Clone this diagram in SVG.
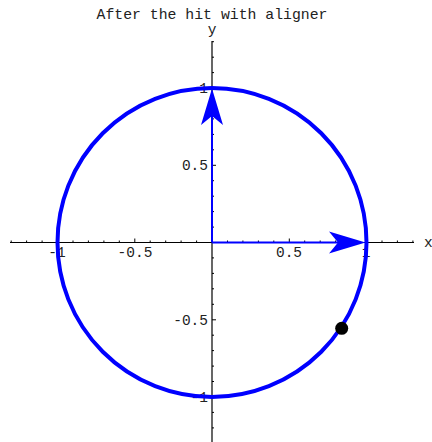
<svg xmlns="http://www.w3.org/2000/svg" width="432" height="442" viewBox="0 0 432 442">
<style>
text{font-family:"Liberation Mono","DejaVu Sans Mono",monospace;fill:#222}
.t{font-size:14.8px}
.l{font-size:14.5px}
.ax{stroke:#000;stroke-width:1.2;fill:none}
.tk{stroke:#000;stroke-width:1}
.blue{stroke:#0000ff;fill:none}
</style>
<rect width="432" height="442" fill="#fff"/>
<text class="t" x="212" y="19" text-anchor="middle">After the hit with aligner</text>
<g id="axes">
<line class="ax" x1="10" y1="242.5" x2="414" y2="242.5"/>
<line class="ax" x1="212" y1="41" x2="212" y2="442"/>
<path class="tk" d="M11.2 242.5v-2M26.6 242.5v-2M42.1 242.5v-2M57.5 242.5v-4M73 242.5v-2M88.4 242.5v-2M103.9 242.5v-2M119.3 242.5v-2M134.8 242.5v-4M150.2 242.5v-2M165.7 242.5v-2M181.1 242.5v-2M196.6 242.5v-2M227.5 242.5v-2M242.9 242.5v-2M258.4 242.5v-2M273.8 242.5v-2M289.3 242.5v-4M304.7 242.5v-2M320.2 242.5v-2M335.6 242.5v-2M351.1 242.5v-2M366.5 242.5v-4M382 242.5v-2M397.4 242.5v-2M412.9 242.5v-2"/>
<path class="tk" d="M212 41.7h2M212 57.2h2M212 72.6h2M212 88h4M212 103.5h2M212 118.9h2M212 134.4h2M212 149.8h2M212 165.3h4M212 180.7h2M212 196.2h2M212 211.6h2M212 227.1h2M212 257.9h2M212 273.4h2M212 288.8h2M212 304.3h2M212 319.8h4M212 335.2h2M212 350.6h2M212 366.1h2M212 381.5h2M212 397h4M212 412.4h2M212 427.9h2"/>
<text class="l" x="57" y="257" text-anchor="middle">-1</text>
<text class="l" x="135" y="257" text-anchor="middle">-0.5</text>
<text class="l" x="289" y="257" text-anchor="middle">0.5</text>
<text class="l" x="366" y="257" text-anchor="middle">1</text>
<text class="l" x="208" y="93" text-anchor="end">1</text>
<text class="l" x="208" y="170" text-anchor="end">0.5</text>
<text class="l" x="208" y="325" text-anchor="end">-0.5</text>
<text class="l" x="208" y="402" text-anchor="end">-1</text>
<text class="l" x="424" y="247">x</text>
<text class="l" x="212" y="33.5" text-anchor="middle">y</text>
</g>
<g id="circle">
<circle class="blue" cx="212" cy="242.5" r="154.5" stroke-width="4"/>
</g>
<g id="connectors">
<line class="blue" x1="212" y1="242.5" x2="340" y2="242.5" stroke-width="2"/>
<polygon points="365.5,242.5 329,231.5 338,242.5 329,253.5" fill="#0000ff"/>
<line class="blue" x1="212" y1="242.5" x2="212" y2="115" stroke-width="2"/>
<polygon points="212,88.5 201,125 212,116 223,125" fill="#0000ff"/>
</g>
<g id="dot">
<circle cx="341.7" cy="328.3" r="6.5" fill="#000"/>
</g>
</svg>
